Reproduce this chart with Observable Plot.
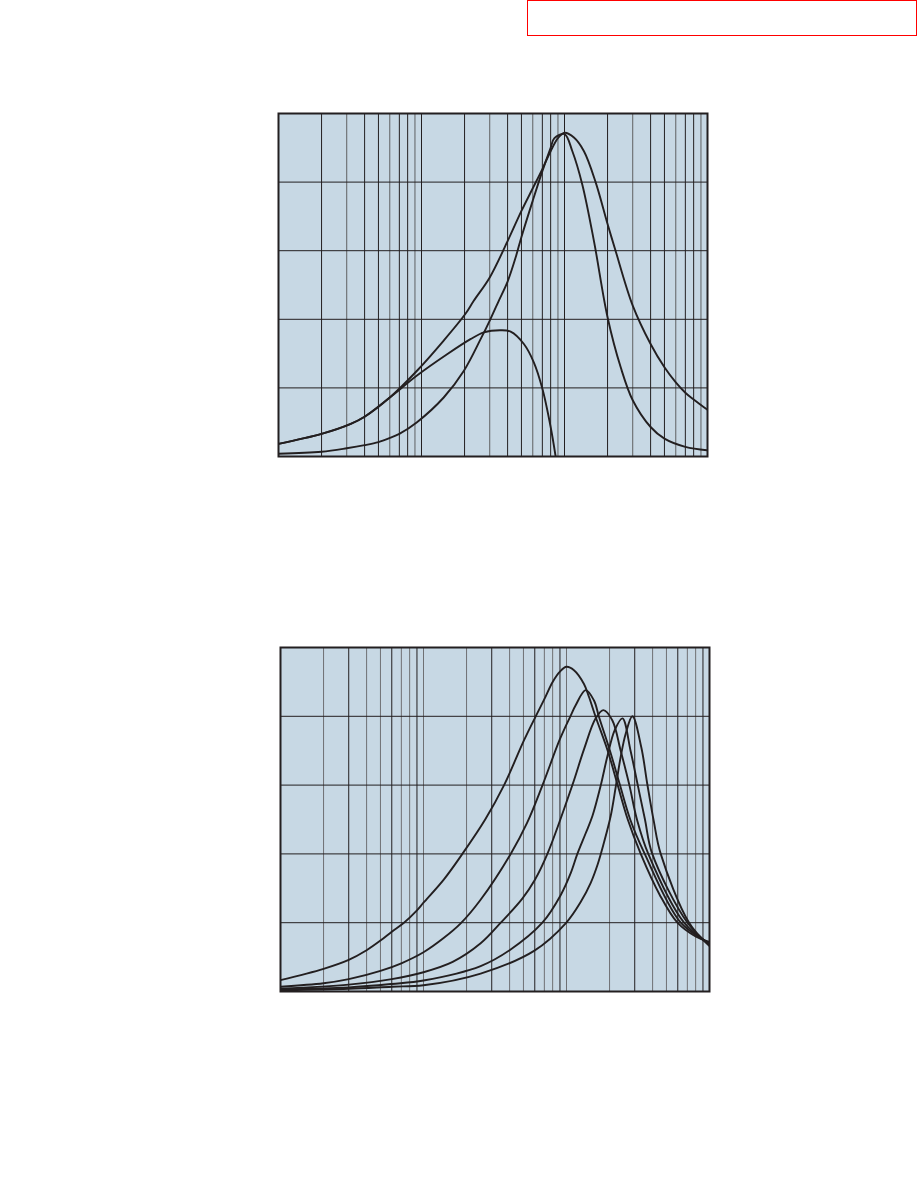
<!DOCTYPE html>
<html>
<head>
<meta charset="utf-8">
<script src="https://cdn.jsdelivr.net/npm/d3@7"></script>
<script src="https://cdn.jsdelivr.net/npm/@observablehq/plot@0.6"></script>
<style>
  html, body { margin: 0; padding: 0; background: #fff; }
  #page { position: relative; width: 918px; height: 1188px; overflow: hidden; font-family: "Liberation Sans", Arial, sans-serif; }
  #redbox { position: absolute; left: 527px; top: 0px; width: 388px; height: 34px; border: 1.5px solid #ff0000; }
  .chart { position: absolute; left: 0; }
</style>
</head>
<body>
<div id="page">
  <div id="redbox"></div>
  <div id="chart1" class="chart" style="top:0px"></div>
  <div id="chart2" class="chart" style="top:520px"></div>
</div>
<script>
// ---- grid tick values (log scale, 3 decades) ----
const decadeTicks = [10, 100, 1000, 10000];
const minorTicks369 = [30, 60, 90, 300, 600, 900, 3000, 6000, 9000];
const minorTicksOther = [20, 40, 50, 70, 80, 200, 400, 500, 700, 800, 2000, 4000, 5000, 7000, 8000];
const yGrid = [1, 2, 3, 4];

// ---- chart 1 series [frequency, value] ----
const c1Broad = [[10,0.185],[20,0.33],[32,0.476],[40,0.58],[60,0.86],[93,1.25],[143,1.69],[203,2.08],[232,2.27],[300,2.61],[400,3.14],[500,3.58],[600,3.91],[700,4.19],[800,4.45],[900,4.64],[1000,4.72],[1164,4.65],[1368,4.45],[1650,4.0],[2000,3.39],[2275,3.0],[3000,2.2],[4000,1.64],[5000,1.30],[6000,1.08],[7000,0.93],[8000,0.83],[9000,0.75],[10000,0.68]];
const c1Narrow = [[10,0.04],[20,0.07],[30,0.12],[40,0.165],[50,0.21],[60,0.27],[70,0.33],[93,0.50],[143,0.86],[198,1.25],[259,1.71],[303,2.0],[347,2.27],[400,2.55],[455,2.9],[500,3.2],[600,3.73],[700,4.16],[800,4.50],[850,4.64],[1000,4.70],[1135,4.45],[1330,3.97],[1607,3.14],[2000,2.03],[2472,1.30],[3000,0.82],[4000,0.43],[5000,0.26],[7000,0.14],[10000,0.09]];
const c1Low = [[10,0.185],[20,0.33],[32,0.476],[40,0.58],[60,0.86],[93,1.18],[151,1.49],[220,1.71],[273,1.81],[357,1.84],[420,1.82],[520,1.64],[611,1.37],[700,0.99],[800,0.43],[867,0]];

// ---- chart 2 series [frequency, value] ----
const c2S1 = [[10,0.166],[20,0.33],[30,0.46],[40,0.60],[50,0.74],[60,0.87],[73,1.0],[90,1.18],[100,1.29],[139,1.63],[187,2.0],[270,2.5],[366,3.0],[504,3.65],[609,4.0],[700,4.25],[800,4.5],[900,4.65],[1000,4.72],[1128,4.67],[1325,4.47],[1437,4.28],[1600,3.99],[1941,3.5],[2280,3.0],[2682,2.5],[3305,2.0],[4500,1.4],[5970,1.0],[8000,0.8],[10000,0.72]];
const c2S2 = [[10,0.07],[20,0.12],[30,0.18],[50,0.30],[70,0.41],[100,0.57],[139,0.78],[182,0.99],[250,1.33],[407,2.0],[530,2.45],[680,3.0],[896,3.66],[1064,4.0],[1159,4.16],[1362,4.38],[1557,4.23],[1688,3.99],[2013,3.5],[2365,3.0],[2790,2.5],[3525,2.0],[6300,1.0],[10000,0.70]];
const c2S3 = [[10,0.04],[30,0.10],[60,0.18],[100,0.28],[160,0.43],[251,0.70],[347,1.0],[491,1.35],[600,1.62],[735,2.0],[1099,3.0],[1325,3.52],[1600,3.97],[1812,4.09],[2094,3.94],[2393,3.5],[2752,3.0],[3110,2.5],[3733,2.0],[6640,1.0],[10000,0.69]];
const c2S4 = [[10,0.03],[30,0.06],[60,0.11],[100,0.16],[251,0.37],[400,0.6],[678,1.0],[910,1.4],[1070,1.72],[1191,2.0],[1362,2.3],[1518,2.55],[1738,3.0],[1932,3.42],[2174,3.8],[2461,3.97],[2805,3.5],[3150,3.0],[3538,2.5],[3980,2.0],[7015,1.0],[10000,0.68]];
const c2S5 = [[10,0.02],[30,0.04],[60,0.07],[100,0.09],[251,0.26],[593,0.59],[987,0.99],[1256,1.30],[1477,1.58],[1653,1.85],[1820,2.15],[2037,2.55],[2208,2.97],[2393,3.41],[2596,3.75],[2891,4.0],[3334,3.55],[3670,3.02],[4074,2.48],[4560,2.0],[7200,1.0],[10000,0.66]];

const BG = "#c7d8e4";
const INK = "#231f20";

function chart({series, height, marginTop, marginBottom, marginLeft, marginRight, darkTicks, grayTicks, grayColor}) {
  return Plot.plot({
    width: 918,
    height,
    marginTop, marginBottom, marginLeft, marginRight,
    x: {type: "log", domain: [10, 10000], axis: null},
    y: {domain: [0, 5], axis: null},
    marks: [
      Plot.frame({fill: BG}),
      Plot.ruleX(grayTicks, {stroke: grayColor, strokeWidth: 1}),
      Plot.ruleX(darkTicks, {stroke: INK, strokeWidth: 1}),
      Plot.ruleY(yGrid, {stroke: INK, strokeWidth: 1}),
      ...series.map(s => Plot.line(s, {x: d => d[0], y: d => d[1], stroke: INK, strokeWidth: 1.9, curve: "catmull-rom", clip: true})),
      Plot.frame({stroke: INK, strokeWidth: 2})
    ]
  });
}

document.getElementById("chart1").append(chart({
  series: [c1Broad, c1Narrow, c1Low],
  height: 520, marginTop: 113, marginBottom: 64, marginLeft: 278, marginRight: 211,
  darkTicks: [...decadeTicks, ...minorTicksOther],
  grayTicks: minorTicks369,
  grayColor: "#5f6062"
}));

document.getElementById("chart2").append(chart({
  series: [c2S1, c2S2, c2S3, c2S4, c2S5],
  height: 668, marginTop: 127, marginBottom: 197, marginLeft: 280, marginRight: 209,
  darkTicks: minorTicks369,
  grayTicks: [...decadeTicks, ...minorTicksOther],
  grayColor: "#6f7073"
}));
</script>
</body>
</html>
